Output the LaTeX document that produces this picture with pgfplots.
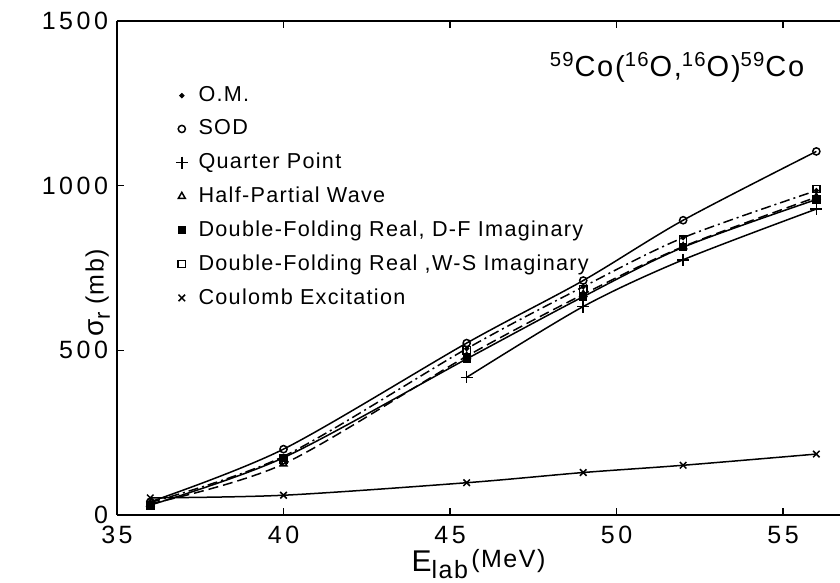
\documentclass[border=0pt]{standalone}
\usepackage{pgfplots}
\pgfplotsset{compat=1.18}
\usepackage{fontspec}
\setmainfont{Liberation Sans}[LetterSpace=6]
\newfontfamily\tickfont{Liberation Sans}[LetterSpace=14]
\begin{document}
\begin{tikzpicture}
\begin{axis}[
  scale only axis, width=361.5pt, height=247pt,
  xmin=35, xmax=56.71, ymin=0, ymax=1500,
  axis x line=box, axis y line=left,
  x axis line style={-}, y axis line style={-},
  axis line style={line width=1pt},
  xtick={35,40,45,50,55}, ytick={0,500,1000,1500},
  tick align=inside, major tick length=3.5pt,
  tick style={line width=0.8pt, black},
  tick label style={font=\tickfont\fontsize{12.5}{12.5}\selectfont},
  xticklabel style={yshift=-2pt},
  yticklabel style={xshift=-1pt},
  /pgf/number format/assume math mode=true,
  /pgf/number format/1000 sep={},
  xlabel={{\fontsize{15}{15}\selectfont E}\raisebox{-0.6ex}{\fontsize{12.5}{12.5}\selectfont lab}\,\raisebox{0.4ex}{\fontsize{12.5}{12.5}\selectfont (MeV)}},
  ylabel={{\fontsize{14}{14}\selectfont σ}\raisebox{-0.6ex}{\fontsize{11}{11}\selectfont r}\ {\fontsize{12.5}{12.5}\selectfont (mb)}},
  xlabel style={yshift=4pt},
  ylabel style={at={(rel axis cs:0,0.45)}, yshift=0pt},
  legend style={draw=none, fill=none, at={(rel axis cs:0.077,0.872)}, anchor=north west,
    font=\fontsize{10.8}{10.8}\selectfont, row sep=5.6pt, inner sep=0pt,
    nodes={inner sep=1pt}},
  legend cell align=left,
  legend image code/.code={\path (-4pt,0pt) (7pt,0pt); \draw[#1] plot[only marks] coordinates {(0pt,0pt)};},
  every axis plot/.append style={line width=0.75pt, black},
  clip=false,
]
\addplot[smooth, dash pattern=on 5pt off 2pt on 1pt off 2pt, mark=*, mark size=0.9pt, mark options={solid}]
  coordinates {(36,38)(40,178)(45.5,505)(49,693)(52,842)(56,985)};
\addlegendentry{O.M.}
\addplot[smooth, mark=o, mark size=1.8pt, mark options={solid}]
  coordinates {(36,40)(40,200)(45.5,522)(49,712)(52,895)(56,1104)};
\addlegendentry{SOD}
\addplot[smooth, mark=+, mark size=3pt, mark options={solid}]
  coordinates {(45.5,418)(49,633)(52,775)(56,929)};
\addlegendentry{Quarter Point}
\addplot[smooth, dash pattern=on 5pt off 2.5pt, mark=triangle, mark size=2pt, mark options={solid}]
  coordinates {(36,34)(40,155)(45.5,482)(49,670)(52,815)(56,965)};
\addlegendentry{Half-Partial Wave}
\addplot[smooth, mark=square*, mark size=1.7pt, mark options={solid}]
  coordinates {(36,30)(40,174)(45.5,474)(49,663)(52,813)(56,958)};
\addlegendentry{Double-Folding Real, D-F Imaginary}
\addplot[only marks, mark=square, mark size=1.8pt, mark options={solid}]
  coordinates {(36,28)(40,168)(45.5,500)(49,686)(52,836)(56,990)};
\addlegendentry{Double-Folding Real ,W-S Imaginary}
\addplot[smooth, mark=x, mark size=2.3pt, mark options={solid}]
  coordinates {(36,52)(40,60)(45.5,98)(49,129)(52,151)(56,185)};
\addlegendentry{Coulomb Excitation}
\node[anchor=base east, font=\fontsize{14.5}{14.5}\selectfont] at (axis cs:55.85,1330)
  {\textsuperscript{59}Co(\textsuperscript{16}O,\textsuperscript{16}O)\textsuperscript{59}Co};
\coordinate (O) at (rel axis cs:0,0);
\end{axis}
\pgfresetboundingbox
\path (O) ++(-58.5pt,-34pt) rectangle ++(420pt,291.5pt);
\end{tikzpicture}
\end{document}
